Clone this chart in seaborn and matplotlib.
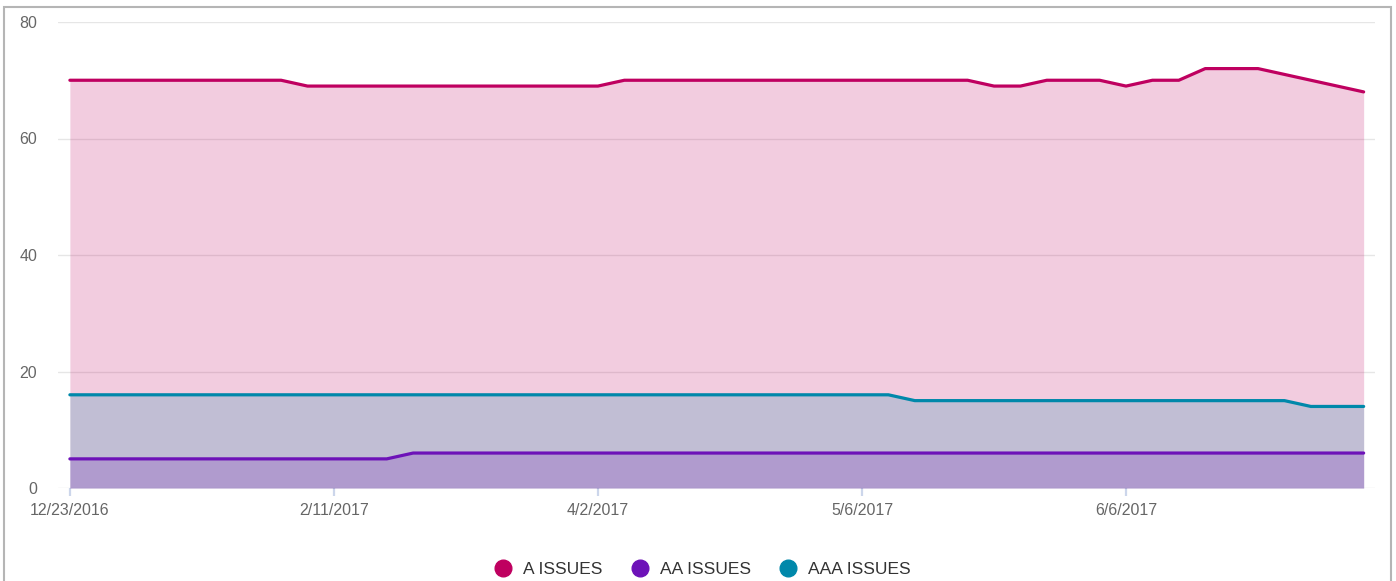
import numpy as np
import pandas as pd
import matplotlib.pyplot as plt
import matplotlib.patches as patches
import seaborn as sns

# values, one point per snapshot
a_issues = [70, 70, 70, 70, 70, 70, 70, 70, 70, 69,
            69, 69, 69, 69, 69, 69, 69, 69, 69, 69,
            69, 70, 70, 70, 70, 70, 70, 70, 70, 70,
            70, 70, 70, 70, 70, 69, 69, 70, 70, 70,
            69, 70, 70, 72, 72, 72, 71, 70, 69, 68]
aa_issues = [5] * 13 + [6] * 37
aaa_issues = [16] * 32 + [15] * 15 + [14] * 3

tick_labels = ["12/23/2016", "2/11/2017", "4/2/2017", "5/6/2017", "6/6/2017"]
tick_every = 10

series_names = ["A ISSUES", "AA ISSUES", "AAA ISSUES"]
colors = {"A ISSUES": "#bf0060", "AA ISSUES": "#6d12b8", "AAA ISSUES": "#0088aa"}

n = len(a_issues)
df = pd.DataFrame({
    "idx": np.tile(np.arange(n), 3),
    "value": a_issues + aa_issues + aaa_issues,
    "series": np.repeat(series_names, n),
})

sns.set_theme(style="white")
plt.rcParams["font.family"] = ["Liberation Sans", "DejaVu Sans"]

fig = plt.figure(figsize=(13.96, 5.81), dpi=100)
ax = fig.add_axes([58 / 1396, 1 - 488 / 581, (1375 - 58) / 1396, (488 - 22) / 581])

# grid under everything
for yv in range(0, 81, 20):
    ax.axhline(yv, color="#e6e6e6", lw=1, zorder=0)

for name in ["A ISSUES", "AAA ISSUES", "AA ISSUES"]:
    sub = df[df.series == name]
    ax.fill_between(sub.idx, sub.value, 0, color=colors[name], alpha=0.2, lw=0, zorder=1)

sns.lineplot(data=df, x="idx", y="value", hue="series", palette=colors,
             hue_order=series_names, lw=2.3, ax=ax, legend=False, zorder=3)

ax.set_xlim(-0.45, n - 1 + 0.43)
ax.set_ylim(0, 80)
ax.set_yticks(range(0, 81, 20))
ax.set_xticks(range(0, n, tick_every))
ax.set_xticklabels(tick_labels)
ax.set_xlabel("")
ax.set_ylabel("")
for s in ax.spines.values():
    s.set_visible(False)
ax.tick_params(axis="y", length=0, pad=15, labelsize=11.5, labelcolor="#666666")
ax.tick_params(axis="x", length=6, width=1.6, color="#ccd6eb", pad=5,
               labelsize=11.5, labelcolor="#666666", bottom=True)

handles = [plt.Line2D([], [], marker="o", ls="", ms=12, color=colors[s]) for s in series_names]
fig.legend(handles, series_names, loc="center", bbox_to_anchor=(0.5, 1 - 569 / 581),
           ncol=3, frameon=False, fontsize=12.5, handletextpad=0.15, columnspacing=1.15,
           labelcolor="#333333")

# outer frame around the chart
fig.patches.append(patches.Rectangle((4 / 1396, -0.05), 1387 / 1396, 1.05 - 7 / 581,
                                     transform=fig.transFigure, fill=False,
                                     edgecolor="#b5b5b5", lw=1.5))

fig.savefig("out.png", dpi=100)
